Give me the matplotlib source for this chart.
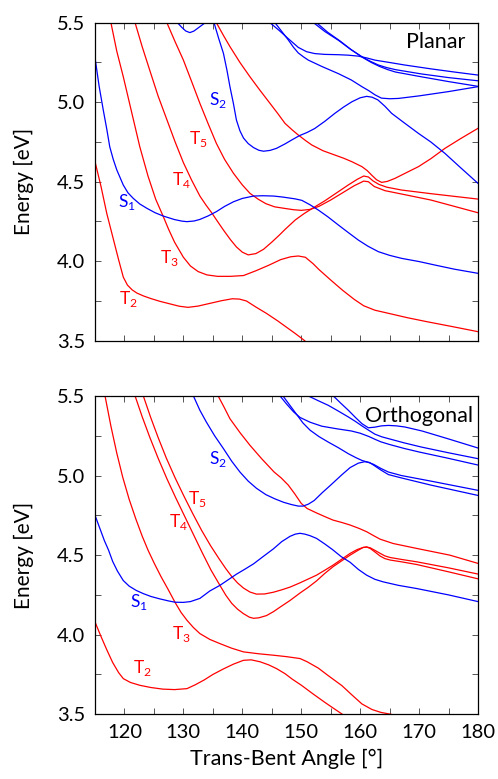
import numpy as np
from matplotlib import pyplot as plt
from matplotlib.ticker import MultipleLocator

# ---- Planar geometry: (angle [deg], energy [eV]) ----
planar_t2 = [(115.0, 4.626), (116.0, 4.473), (117.0, 4.30), (118.0, 4.155), (119.0, 4.01),
             (119.8, 3.90), (120.5, 3.85), (121.3, 3.82), (122.1, 3.80), (123.2, 3.782),
             (124.5, 3.765), (126.0, 3.748), (127.7, 3.732), (129.3, 3.717), (130.8, 3.710),
             (132.5, 3.718), (134.5, 3.735), (136.5, 3.752), (138.3, 3.764), (139.5, 3.762),
             (140.7, 3.750), (142.3, 3.712), (144.1, 3.672), (146.0, 3.625), (147.5, 3.585),
             (149.0, 3.545), (150.6, 3.50)]
planar_t3 = [(117.7, 5.50), (118.7, 5.32), (119.8, 5.16), (121.2, 4.94), (122.6, 4.72),
             (124.0, 4.535), (125.3, 4.39), (126.6, 4.28), (127.5, 4.20), (128.5, 4.12),
             (130.0, 4.025), (131.2, 3.97), (132.5, 3.935), (134.0, 3.914), (135.8, 3.905),
             (138.0, 3.905), (140.2, 3.91), (142.3, 3.94), (144.5, 3.975), (146.5, 4.01),
             (148.2, 4.028), (149.5, 4.033), (150.7, 4.025), (152.0, 3.985), (153.0, 3.948),
             (155.0, 3.882), (157.0, 3.818), (159.0, 3.76), (160.6, 3.72), (162.5, 3.692),
             (164.5, 3.675), (168.0, 3.645), (171.3, 3.62), (175.5, 3.59), (180.0, 3.557)]
planar_t4 = [(121.8, 5.50), (123.0, 5.35), (124.3, 5.20), (125.7, 5.04), (127.2, 4.89),
             (128.6, 4.75), (130.0, 4.62), (131.4, 4.51), (132.8, 4.41), (133.8, 4.355),
             (134.8, 4.305), (135.8, 4.25), (136.8, 4.196), (138.0, 4.135), (139.0, 4.09),
             (140.0, 4.057), (141.0, 4.04), (142.3, 4.048), (143.6, 4.075), (145.0, 4.12),
             (146.3, 4.165), (147.25, 4.20), (149.0, 4.26), (150.5, 4.30), (152.0, 4.335),
             (154.0, 4.38), (156.0, 4.43), (158.0, 4.48), (159.5, 4.515), (160.6, 4.536),
             (161.4, 4.53), (162.2, 4.505), (163.2, 4.483), (164.5, 4.466), (167.0, 4.448),
             (172.0, 4.425), (180.0, 4.391)]
planar_t5 = [(127.2, 5.50), (128.6, 5.38), (130.0, 5.265), (131.4, 5.13), (132.8, 4.993),
             (134.2, 4.865), (135.6, 4.741), (137.0, 4.64), (138.5, 4.553), (140.0, 4.48),
             (141.3, 4.427), (142.7, 4.39), (144.0, 4.362), (145.5, 4.342), (147.25, 4.332),
             (148.7, 4.324), (150.0, 4.32), (151.5, 4.326), (153.0, 4.345), (155.0, 4.385),
             (157.0, 4.43), (159.0, 4.475), (160.6, 4.504), (161.4, 4.50), (162.4, 4.47),
             (164.2, 4.444), (167.0, 4.423), (172.0, 4.385), (180.0, 4.305)]
planar_t6 = [(135.6, 5.50), (136.8, 5.42), (137.9, 5.35), (139.6, 5.25), (141.3, 5.16),
             (143.0, 5.075), (144.7, 4.993), (146.0, 4.93), (147.25, 4.867), (148.5, 4.825),
             (149.5, 4.794), (150.7, 4.76), (151.8, 4.731), (153.7, 4.695), (155.7, 4.668),
             (157.2, 4.648), (158.6, 4.626), (160.3, 4.595), (161.2, 4.57), (162.0, 4.54),
             (162.8, 4.512), (163.65, 4.496), (164.6, 4.502), (165.9, 4.521), (168.0, 4.56),
             (169.9, 4.595), (172.0, 4.645), (174.4, 4.71), (177.0, 4.77), (180.0, 4.836)]
planar_s1 = [(115.0, 5.28), (115.7, 5.10), (116.4, 4.951), (117.0, 4.83), (117.5, 4.72),
             (118.1, 4.64), (118.7, 4.574), (119.8, 4.479), (120.6, 4.43), (121.5, 4.395),
             (122.6, 4.36), (123.8, 4.333), (125.2, 4.305), (126.6, 4.284), (128.5, 4.262),
             (129.8, 4.252), (130.6, 4.249), (131.8, 4.253), (132.8, 4.263), (134.2, 4.285),
             (135.6, 4.312), (137.0, 4.345), (138.5, 4.374), (140.0, 4.395), (141.9, 4.41),
             (143.5, 4.412), (145.3, 4.41), (146.8, 4.404), (148.1, 4.397), (149.0, 4.392),
             (150.1, 4.383), (151.5, 4.355), (152.9, 4.322), (154.5, 4.28), (156.3, 4.228),
             (158.0, 4.18), (159.7, 4.133), (161.3, 4.095), (163.1, 4.06), (165.0, 4.037),
             (167.05, 4.018), (170.0, 3.998), (172.7, 3.976), (176.0, 3.95), (180.0, 3.924)]
planar_s2 = [(135.2, 5.50), (136.0, 5.40), (136.8, 5.307), (137.4, 5.20), (137.9, 5.098),
             (138.5, 4.99), (139.0, 4.888), (139.6, 4.82), (140.2, 4.775), (141.0, 4.74),
             (141.9, 4.715), (142.8, 4.698), (143.6, 4.692), (144.7, 4.697), (145.8, 4.71),
             (147.25, 4.738), (148.5, 4.765), (149.7, 4.79), (151.0, 4.81), (152.3, 4.835),
             (154.0, 4.88), (155.7, 4.93), (157.2, 4.97), (158.6, 5.003), (160.0, 5.028),
             (161.1, 5.037), (162.0, 5.032), (163.0, 5.015), (164.2, 4.975), (165.35, 4.93),
             (167.5, 4.87), (169.9, 4.804), (172.0, 4.75), (174.4, 4.678), (177.0, 4.59),
             (180.0, 4.49)]
planar_s3 = [(129.0, 5.50), (129.7, 5.472), (130.4, 5.448), (131.1, 5.438), (131.8, 5.448),
             (132.6, 5.47), (133.7, 5.50)]
planar_s4 = [(144.7, 5.50), (146.3, 5.45), (147.8, 5.40), (149.5, 5.345), (150.9, 5.318),
             (152.3, 5.306), (154.0, 5.301), (156.3, 5.299), (158.0, 5.296), (159.7, 5.29),
             (161.2, 5.278), (162.5, 5.265), (165.0, 5.25), (167.6, 5.234), (172.0, 5.21),
             (176.0, 5.19), (180.0, 5.171)]
planar_s5 = [(145.55, 5.50), (146.7, 5.445), (147.8, 5.392), (148.7, 5.345), (149.5, 5.31),
             (150.4, 5.285), (151.2, 5.265), (153.5, 5.225), (156.3, 5.18), (158.5, 5.14),
             (160.3, 5.098), (161.5, 5.072), (162.5, 5.047), (163.6, 5.026), (165.0, 5.022),
             (166.5, 5.024), (170.0, 5.04), (175.0, 5.067), (180.0, 5.098)]
planar_s6 = [(152.1, 5.50), (154.0, 5.445), (156.3, 5.39), (158.3, 5.335), (160.3, 5.286),
             (161.7, 5.258), (163.1, 5.234), (164.5, 5.218), (166.0, 5.205), (170.4, 5.178),
             (175.0, 5.155), (180.0, 5.135)]
planar_s7 = [(152.6, 5.50), (154.5, 5.44), (156.6, 5.385), (158.5, 5.33), (160.5, 5.28),
             (161.9, 5.25), (163.3, 5.225), (164.7, 5.205), (166.0, 5.19), (170.4, 5.16),
             (175.0, 5.13), (180.0, 5.10)]

# ---- Orthogonal geometry ----
ortho_t2 = [(115.0, 4.08), (116.0, 3.99), (117.0, 3.905), (118.0, 3.825), (119.0, 3.762),
            (119.8, 3.724), (121.0, 3.70), (122.6, 3.682), (124.5, 3.668), (126.5, 3.658),
            (128.5, 3.655), (130.6, 3.661), (132.0, 3.685), (133.5, 3.715), (135.0, 3.75),
            (136.8, 3.785), (138.5, 3.815), (140.2, 3.839), (141.5, 3.842), (143.0, 3.83),
            (144.5, 3.81), (145.8, 3.787), (147.25, 3.755), (148.5, 3.72), (150.0, 3.683),
            (152.0, 3.628), (154.0, 3.575), (155.5, 3.537), (157.1, 3.497)]
ortho_t3 = [(116.7, 5.50), (117.7, 5.31), (118.7, 5.14), (119.7, 4.99), (120.8, 4.85),
            (121.9, 4.73), (123.0, 4.62), (124.0, 4.531), (125.1, 4.445), (126.2, 4.365),
            (127.4, 4.285), (128.6, 4.202), (129.6, 4.14), (130.6, 4.091), (131.7, 4.045),
            (132.8, 4.007), (134.5, 3.97), (136.2, 3.944), (138.2, 3.915), (140.2, 3.892),
            (142.8, 3.88), (145.3, 3.871), (147.5, 3.862), (149.8, 3.85), (151.0, 3.83),
            (152.9, 3.79), (154.5, 3.745), (156.9, 3.68), (158.5, 3.625), (160.3, 3.565),
            (162.0, 3.53), (163.5, 3.512), (165.6, 3.497)]
ortho_t4 = [(121.8, 5.50), (123.0, 5.37), (124.3, 5.24), (125.7, 5.11), (127.2, 4.98),
            (128.7, 4.86), (130.2, 4.745), (131.7, 4.63), (133.2, 4.515), (134.7, 4.405),
            (136.2, 4.31), (137.2, 4.248), (138.2, 4.197), (139.2, 4.16), (140.2, 4.132),
            (141.2, 4.11), (141.9, 4.103), (142.8, 4.106), (144.1, 4.12), (145.3, 4.145),
            (146.4, 4.173), (148.1, 4.215), (149.8, 4.262), (151.2, 4.298), (152.6, 4.338),
            (154.0, 4.385), (155.4, 4.427), (156.9, 4.465), (158.3, 4.50), (159.5, 4.527),
            (160.5, 4.548), (161.1, 4.551), (161.7, 4.542), (162.5, 4.52), (163.4, 4.494),
            (164.2, 4.478), (165.1, 4.469), (167.0, 4.458), (169.6, 4.441), (175.0, 4.395),
            (180.0, 4.351)]
ortho_t5 = [(123.2, 5.50), (124.4, 5.37), (125.7, 5.24), (127.1, 5.11), (128.6, 4.985),
            (130.1, 4.87), (131.6, 4.76), (133.1, 4.655), (134.6, 4.56), (136.0, 4.48),
            (137.2, 4.415), (138.2, 4.366), (139.2, 4.325), (140.2, 4.293), (141.3, 4.268),
            (142.4, 4.255), (143.8, 4.256), (145.3, 4.267), (146.7, 4.282), (148.1, 4.299),
            (149.8, 4.326), (151.2, 4.35), (152.6, 4.374), (154.0, 4.405), (155.4, 4.437),
            (156.9, 4.475), (158.3, 4.511), (159.5, 4.535), (160.5, 4.548), (161.1, 4.551),
            (161.7, 4.546), (162.5, 4.53), (163.4, 4.511), (164.2, 4.495), (165.1, 4.485),
            (167.0, 4.473), (169.6, 4.458), (175.0, 4.42), (180.0, 4.381)]
ortho_t6 = [(135.9, 5.50), (136.9, 5.43), (137.9, 5.357), (139.6, 5.27), (141.3, 5.19),
            (143.3, 5.105), (145.4, 5.022), (146.6, 4.985), (147.8, 4.94), (148.9, 4.885),
            (150.0, 4.825), (151.0, 4.793), (152.6, 4.765), (154.0, 4.742), (155.4, 4.72),
            (156.9, 4.705), (158.3, 4.689), (159.8, 4.668), (161.1, 4.647), (162.3, 4.622),
            (163.4, 4.60), (165.6, 4.573), (169.6, 4.542), (175.2, 4.50), (180.0, 4.448)]
ortho_s1 = [(115.0, 4.75), (115.8, 4.67), (116.6, 4.59), (117.3, 4.531), (118.0, 4.46),
            (118.8, 4.40), (119.8, 4.34), (120.8, 4.305), (122.0, 4.278), (123.2, 4.258),
            (124.5, 4.24), (126.0, 4.225), (127.5, 4.212), (128.6, 4.204), (130.0, 4.203),
            (131.2, 4.208), (132.8, 4.228), (134.5, 4.275), (136.2, 4.31), (137.6, 4.345),
            (139.0, 4.38), (140.5, 4.413), (141.9, 4.445), (143.5, 4.49), (145.3, 4.54),
            (146.7, 4.585), (148.1, 4.618), (149.0, 4.632), (149.8, 4.637), (150.6, 4.632),
            (151.5, 4.622), (152.6, 4.605), (154.0, 4.57), (155.3, 4.535), (156.8, 4.49),
            (158.3, 4.455), (159.7, 4.41), (161.1, 4.374), (162.5, 4.348), (163.9, 4.332),
            (166.5, 4.31), (169.6, 4.29), (175.0, 4.25), (180.0, 4.208)]
ortho_s2 = [(131.7, 5.50), (132.8, 5.41), (133.9, 5.336), (135.3, 5.25), (136.8, 5.169),
            (138.2, 5.09), (139.6, 5.022), (141.0, 4.965), (142.4, 4.92), (144.0, 4.88),
            (145.5, 4.854), (147.0, 4.832), (148.3, 4.818), (149.5, 4.808), (150.3, 4.808),
            (151.2, 4.82), (152.2, 4.843), (153.5, 4.89), (155.0, 4.94), (156.9, 5.005),
            (158.3, 5.05), (159.7, 5.078), (160.8, 5.087), (161.6, 5.082), (162.5, 5.06),
            (163.5, 5.035), (164.8, 5.006), (167.0, 4.985), (172.0, 4.94), (180.0, 4.875)]
ortho_s3 = [(155.45, 5.50), (156.7, 5.455), (158.0, 5.41), (159.2, 5.365), (160.3, 5.326),
            (161.4, 5.30), (162.5, 5.304), (163.6, 5.312), (164.8, 5.315), (166.2, 5.312),
            (167.6, 5.305), (170.5, 5.28), (175.0, 5.23), (180.0, 5.173)]
ortho_s4 = [(151.2, 5.50), (152.9, 5.47), (154.6, 5.441), (156.3, 5.405), (158.0, 5.368),
            (159.2, 5.34), (160.3, 5.312), (161.3, 5.288), (162.5, 5.26), (163.7, 5.243),
            (164.8, 5.232), (167.5, 5.205), (170.4, 5.179), (175.0, 5.143), (180.0, 5.106)]
ortho_s5 = [(146.4, 5.50), (147.5, 5.45), (148.7, 5.40), (149.8, 5.365), (151.5, 5.335),
            (153.5, 5.31), (156.0, 5.294), (158.5, 5.28), (160.0, 5.266), (161.5, 5.245),
            (162.5, 5.228), (163.5, 5.212), (165.0, 5.195), (167.5, 5.17), (170.0, 5.148),
            (175.0, 5.108), (180.0, 5.066)]
ortho_s6 = [(146.9, 5.50), (148.0, 5.445), (149.2, 5.385), (150.3, 5.33), (151.5, 5.285),
            (153.0, 5.245), (154.6, 5.21), (156.3, 5.175), (158.0, 5.137), (159.3, 5.112),
            (160.3, 5.095), (161.2, 5.085), (162.3, 5.07), (163.5, 5.045), (164.8, 5.022),
            (167.0, 5.0), (172.0, 4.965), (180.0, 4.907)]

# state names and where they are written (angle, energy)
state_names = ['S$_\\mathregular{1}$', 'S$_\\mathregular{2}$', 'T$_\\mathregular{2}$',
               'T$_\\mathregular{3}$', 'T$_\\mathregular{4}$', 'T$_\\mathregular{5}$']
state_is_singlet = [True, True, False, False, False, False]
planar_label_pos = [(120.4, 4.37), (135.9, 5.014), (120.6, 3.762),
                    (127.6, 4.02), (129.6, 4.51), (132.5, 4.77)]
ortho_label_pos = [(122.5, 4.204), (135.9, 5.104), (123.0, 3.792),
                   (129.6, 4.003), (129.1, 4.708), (132.3, 4.852)]

RED = '#ff0000'
BLUE = '#0000ff'

plt.rcParams['font.family'] = ['Lato', 'DejaVu Sans']
plt.rcParams['mathtext.fontset'] = 'dejavusans'


def draw_panel(ax, triplets, singlets, label_pos, title, title_x, bottom):
    for curve in triplets:
        x, y = np.array(curve).T
        ax.plot(x, y, color=RED, lw=0.9)
    for curve in singlets:
        x, y = np.array(curve).T
        ax.plot(x, y, color=BLUE, lw=0.9)

    for name, (lx, ly), singlet in zip(state_names, label_pos, state_is_singlet):
        ax.text(lx, ly, name, color=BLUE if singlet else RED,
                fontsize=12.5, ha='center', va='center')

    ax.text(title_x, 0.938, title, transform=ax.transAxes,
            ha='right', va='center', fontsize=15.5)

    ax.set_xlim(115, 180)
    ax.set_ylim(3.5, 5.5)
    ax.xaxis.set_major_locator(MultipleLocator(10))
    ax.xaxis.set_minor_locator(MultipleLocator(5))
    ax.yaxis.set_major_locator(MultipleLocator(0.5))
    ax.yaxis.set_minor_locator(MultipleLocator(0.25))
    ax.yaxis.set_major_formatter(lambda v, pos: f'{v:.1f}')
    ax.tick_params(which='both', direction='in', top=True, right=True,
                   length=4.5, width=0.7, color='#555555', labelsize=14.5, pad=7)
    for s in ax.spines.values():
        s.set_linewidth(0.9)
    ax.set_ylabel('Energy [eV]', fontsize=15)
    ax.yaxis.set_label_coords(-0.16, 0.5)
    if bottom:
        ax.set_xlabel('Trans-Bent Angle [°]', fontsize=15.5)
        ax.xaxis.set_label_coords(0.5, -0.11)
    else:
        ax.tick_params(labelbottom=False)


fig = plt.figure(figsize=(4.98, 7.79), dpi=100)
ax_top = fig.add_axes([0.1908, 0.5626, 0.769, 0.4082])
ax_bot = fig.add_axes([0.1908, 0.0831, 0.769, 0.4086])

draw_panel(ax_top,
           [planar_t2, planar_t3, planar_t4, planar_t5, planar_t6],
           [planar_s1, planar_s2, planar_s3, planar_s4, planar_s5, planar_s6, planar_s7],
           planar_label_pos, 'Planar', 0.966, bottom=False)
draw_panel(ax_bot,
           [ortho_t2, ortho_t3, ortho_t4, ortho_t5, ortho_t6],
           [ortho_s1, ortho_s2, ortho_s3, ortho_s4, ortho_s5, ortho_s6],
           ortho_label_pos, 'Orthogonal', 0.987, bottom=True)

fig.savefig('out.png', dpi=100)
